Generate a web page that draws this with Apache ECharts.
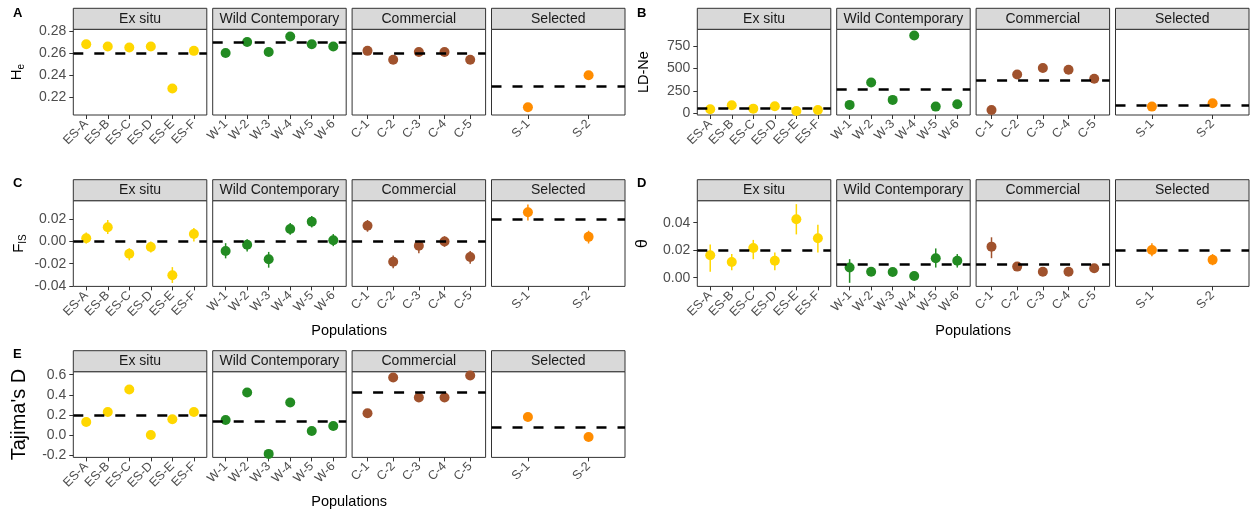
<!DOCTYPE html>
<html>
<head>
<meta charset="utf-8">
<script src="https://cdn.jsdelivr.net/npm/echarts@6.0.0/dist/echarts.min.js"></script>
<style>
  html, body { margin: 0; padding: 0; background: #fff; }
  #chart { width: 1250px; height: 511px; }
</style>
</head>
<body>
<div id="chart"></div>
<script>
  // facets + populations
  const facetNames = ['Ex situ', 'Wild Contemporary', 'Commercial', 'Selected']
  const facetColors = ['#FFD700', '#228B22', '#A0522D', '#FF8C00']
  const exSituPops = ['ES-A', 'ES-B', 'ES-C', 'ES-D', 'ES-E', 'ES-F']
  const wildPops = ['W-1', 'W-2', 'W-3', 'W-4', 'W-5', 'W-6']
  const commercialPops = ['C-1', 'C-2', 'C-3', 'C-4', 'C-5']
  const selectedPops = ['S-1', 'S-2']

  // A: He
  const heTicks = [0.22, 0.24, 0.26, 0.28]
  const heExSitu = [0.268, 0.266, 0.265, 0.266, 0.228, 0.262]
  const heWild = [0.260, 0.270, 0.261, 0.275, 0.268, 0.266]
  const heCommercial = [0.262, 0.254, 0.261, 0.261, 0.254]
  const heSelected = [0.211, 0.240]
  const heMeans = [0.2592, 0.2668, 0.2586, 0.2256]

  // B: LD-Ne
  const neTicks = [0, 250, 500, 750]
  const neExSitu = [45, 90, 52, 79, 26, 37]
  const neWild = [94, 345, 150, 870, 75, 101]
  const neCommercial = [37, 435, 506, 487, 386]
  const neSelected = [75, 112]
  const neMeans = [56, 272, 371, 94]

  // C: FIS (point, lower, upper)
  const fisTicks = [-0.04, -0.02, 0, 0.02]
  const fisExSitu = [0.003, 0.0128, -0.011, -0.0049, -0.0304, 0.0067]
  const fisExSituLo = [-0.0018, 0.0067, -0.017, -0.010, -0.0374, 0.0]
  const fisExSituHi = [0.0082, 0.0194, -0.0061, 0.0, -0.0231, 0.0122]
  const fisWild = [-0.0085, -0.003, -0.016, 0.0112, 0.0179, 0.0012]
  const fisWildLo = [-0.0152, -0.009, -0.0236, 0.006, 0.0127, -0.0042]
  const fisWildHi = [-0.0015, 0.0021, -0.0094, 0.0167, 0.023, 0.0067]
  const fisCommercial = [0.0142, -0.0182, -0.0039, 0.0, -0.014]
  const fisCommercialLo = [0.0088, -0.0242, -0.0106, -0.0048, -0.020]
  const fisCommercialHi = [0.0194, -0.0127, 0.0006, 0.0048, -0.0085]
  const fisSelected = [0.0264, 0.0042]
  const fisSelectedLo = [0.019, -0.0018]
  const fisSelectedHi = [0.0334, 0.0097]
  const fisMeans = [-0.0043, 0.0009, -0.0049, 0.0158]

  // D: theta (point, lower, upper)
  const thetaTicks = [0, 0.02, 0.04]
  const thetaExSitu = [0.0164, 0.0115, 0.0216, 0.0123, 0.0425, 0.0287]
  const thetaExSituLo = [0.0044, 0.0054, 0.0135, 0.0054, 0.0315, 0.0184]
  const thetaExSituHi = [0.0241, 0.0172, 0.0275, 0.0184, 0.0535, 0.0385]
  const thetaWild = [0.0074, 0.0044, 0.0042, 0.0012, 0.0142, 0.0123]
  const thetaWildLo = [-0.0037, 0.0034, 0.0032, 0.0005, 0.0074, 0.0074]
  const thetaWildHi = [0.0135, 0.0054, 0.0052, 0.002, 0.0213, 0.0172]
  const thetaCommercial = [0.0226, 0.0081, 0.0044, 0.0044, 0.0069]
  const thetaCommercialLo = [0.0142, 0.007, 0.0036, 0.0036, 0.006]
  const thetaCommercialHi = [0.0294, 0.0092, 0.0052, 0.0052, 0.0078]
  const thetaSelected = [0.0201, 0.013]
  const thetaSelectedLo = [0.0157, 0.0091]
  const thetaSelectedHi = [0.025, 0.0172]
  const thetaMeans = [0.0218, 0.0074, 0.0093, 0.0169]

  // E: Tajima's D
  const tajTicks = [-0.2, 0, 0.2, 0.4, 0.6]
  const tajExSitu = [0.13, 0.23, 0.453, 0.0, 0.157, 0.23]
  const tajWild = [0.15, 0.423, -0.187, 0.323, 0.04, 0.09]
  const tajCommercial = [0.217, 0.573, 0.373, 0.373, 0.593]
  const tajSelected = [0.18, -0.02]
  const tajMeans = [0.2, 0.143, 0.43, 0.083]

  const popGroups = [exSituPops, wildPops, commercialPops, selectedPops]

  // layout
  const facetW = 133.5
  const facetGap = 5.9
  const stripH = 21
  const plotH = 85.7
  const font = 'Liberation Sans'

  const panels = [
    { letter: 'A', lx: 13, ly: 13, left: 73.3, top: 29.3, yMin: 0.204, yMax: 0.2815, ticks: heTicks, digits: 2,
      values: [heExSitu, heWild, heCommercial, heSelected], means: heMeans,
      title: '{m|H}{s|e}', tx: 17, tsize: 15 },
    { letter: 'B', lx: 637, ly: 13, left: 697.3, top: 29.3, yMin: -19, yMax: 940, ticks: neTicks, digits: 0,
      values: [neExSitu, neWild, neCommercial, neSelected], means: neMeans,
      title: '{m|LD-Ne}', tx: 644, tsize: 14.5 },
    { letter: 'C', lx: 13, ly: 183, left: 73.3, top: 200.7, yMin: -0.0405, yMax: 0.0368, ticks: fisTicks, digits: 2,
      values: [fisExSitu, fisWild, fisCommercial, fisSelected], means: fisMeans,
      lo: [fisExSituLo, fisWildLo, fisCommercialLo, fisSelectedLo],
      hi: [fisExSituHi, fisWildHi, fisCommercialHi, fisSelectedHi],
      title: '{m|F}{s|IS}', tx: 19, tsize: 15, xTitle: 331 },
    { letter: 'D', lx: 637, ly: 183, left: 697.3, top: 200.7, yMin: -0.0063, yMax: 0.056, ticks: thetaTicks, digits: 2,
      values: [thetaExSitu, thetaWild, thetaCommercial, thetaSelected], means: thetaMeans,
      lo: [thetaExSituLo, thetaWildLo, thetaCommercialLo, thetaSelectedLo],
      hi: [thetaExSituHi, thetaWildHi, thetaCommercialHi, thetaSelectedHi],
      title: '{m|θ}', tx: 643, tsize: 16, xTitle: 331 },
    { letter: 'E', lx: 13, ly: 354, left: 73.3, top: 371.7, yMin: -0.222, yMax: 0.63, ticks: tajTicks, digits: 1,
      values: [tajExSitu, tajWild, tajCommercial, tajSelected], means: tajMeans,
      title: "{m|Tajima's D}", tx: 19.5, tsize: 20, xTitle: 502 }
  ]

  const grids = []
  const xAxes = []
  const yAxes = []
  const series = []
  const graphics = []

  panels.forEach(p => {
    // panel letter
    graphics.push({
      type: 'text', x: p.lx, y: p.ly,
      style: { text: p.letter, font: 'bold 13px ' + font, fill: '#000', align: 'left', verticalAlign: 'middle', textAlign: 'left', textVerticalAlign: 'middle' }
    })
    // y title
    graphics.push({
      type: 'text', x: p.tx, y: p.top + plotH / 2, rotation: Math.PI / 2,
      style: {
        text: p.title, fill: '#000', align: 'center', verticalAlign: 'middle', textAlign: 'center', textVerticalAlign: 'middle',
        rich: {
          m: { fontSize: p.tsize, fontFamily: font, fill: '#000' },
          s: { fontSize: 10, fontFamily: font, fill: '#000', verticalAlign: 'bottom', padding: [8, 0, 0, 0] }
        }
      }
    })
    const totalW = facetW * 4 + facetGap * 3
    if (p.xTitle) {
      graphics.push({
        type: 'text', x: p.left + totalW / 2, y: p.xTitle,
        style: { text: 'Populations', font: '14.5px ' + font, fill: '#000', align: 'center', verticalAlign: 'middle', textAlign: 'center', textVerticalAlign: 'middle' }
      })
    }

    for (let f = 0; f < 4; f++) {
      const idx = grids.length
      const left = p.left + f * (facetW + facetGap)
      const pops = popGroups[f]
      const pos = pops.map((_, i) => i + 1)
      const color = facetColors[f]

      grids.push({ left: left, top: p.top, width: facetW, height: plotH, show: true, backgroundColor: '#fff', borderColor: '#333', borderWidth: 1 })

      xAxes.push({
        gridIndex: idx, type: 'value', min: 0.4, max: pops.length + 0.6, position: 'bottom',
        axisLine: { show: false, onZero: false }, splitLine: { show: false },
        axisTick: { show: true, customValues: pos, length: 4, lineStyle: { color: '#333' } },
        axisLabel: {
          customValues: pos, rotate: 45, margin: 7, fontSize: 12.5, color: '#4d4d4d', fontFamily: font,
          formatter: v => pops[Math.round(v) - 1]
        }
      })

      yAxes.push({
        gridIndex: idx, type: 'value', min: p.yMin, max: p.yMax, position: 'left',
        axisLine: { show: false, onZero: false }, splitLine: { show: false },
        axisTick: { show: f === 0, customValues: p.ticks, length: 4, lineStyle: { color: '#333' } },
        axisLabel: {
          show: f === 0, customValues: p.ticks, margin: 7, fontSize: 14, color: '#4d4d4d', fontFamily: font,
          formatter: v => v.toFixed(p.digits)
        }
      })

      // strip
      graphics.push({
        type: 'rect', shape: { x: left, y: p.top - stripH, width: facetW, height: stripH },
        style: { fill: '#d9d9d9', stroke: '#333', lineWidth: 1 }
      })
      graphics.push({
        type: 'text', x: left + facetW / 2, y: p.top - stripH / 2,
        style: { text: facetNames[f], font: '14px ' + font, fill: '#1a1a1a', align: 'center', verticalAlign: 'middle', textAlign: 'center', textVerticalAlign: 'middle' }
      })

      // dashed mean line
      series.push({
        type: 'line', xAxisIndex: idx, yAxisIndex: idx, data: [], z: 2, silent: true,
        markLine: {
          silent: true, symbol: ['none', 'none'], animation: false,
          label: { show: false },
          lineStyle: { color: '#000', width: 2.6, type: [10, 11] },
          data: [{ yAxis: p.means[f] }]
        }
      })

      // error bars
      if (p.lo) {
        const lo = p.lo[f]
        const hi = p.hi[f]
        series.push({
          type: 'custom', xAxisIndex: idx, yAxisIndex: idx, z: 3, silent: true,
          data: lo.map((l, i) => [i + 1, l, hi[i]]),
          renderItem: (params, api) => {
            const a = api.coord([api.value(0), api.value(1)])
            const b = api.coord([api.value(0), api.value(2)])
            return {
              type: 'line',
              shape: { x1: a[0], y1: a[1], x2: b[0], y2: b[1] },
              style: { stroke: color, lineWidth: 1.5 }
            }
          }
        })
      }

      // points
      series.push({
        type: 'scatter', xAxisIndex: idx, yAxisIndex: idx, z: 4, silent: true,
        symbolSize: 10,
        itemStyle: { color: color, opacity: 1 },
        data: p.values[f].map((v, i) => [i + 1, v])
      })
    }
  })

  const chart = echarts.init(document.getElementById('chart'))
  chart.setOption({
    animation: false,
    backgroundColor: '#fff',
    textStyle: { fontFamily: font },
    grid: grids,
    xAxis: xAxes,
    yAxis: yAxes,
    series: series,
    graphic: graphics
  })
</script>
</body>
</html>
